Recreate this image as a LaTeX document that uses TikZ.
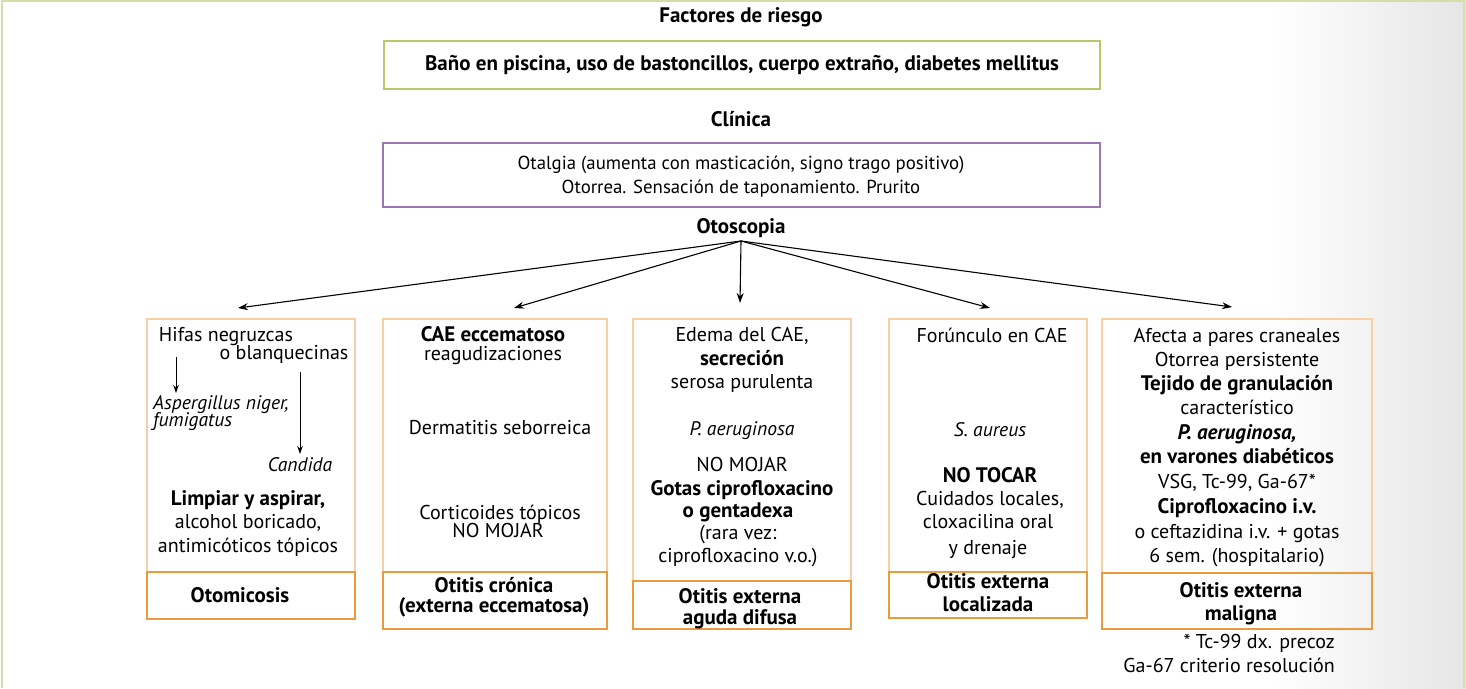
\documentclass[tikz,border=0pt]{standalone}
\usepackage{fontspec}
\setmainfont{PT Sans}
\usetikzlibrary{arrows.meta}
\definecolor{frameg}{HTML}{D3DFA6}
\definecolor{boxg}{HTML}{B6CA6C}
\definecolor{boxp}{HTML}{9A78B6}
\definecolor{olight}{HTML}{F8CFA2}
\definecolor{odark}{HTML}{EC9A3E}
\tikzset{
  txt/.style={inner sep=0pt, text height=14pt, text depth=4pt, font=\fontsize{20}{24}\selectfont},
  btxt/.style={txt, font=\fontsize{21}{24}\selectfont\bfseries},
  itxt/.style={txt, font=\fontsize{19.6}{24}\selectfont\itshape},
  bitxt/.style={txt, font=\fontsize{21}{24}\selectfont\bfseries\itshape},
  tight/.style={text height=10pt, text depth=3pt},
  topbox/.style={draw=olight, line width=1.2pt, inner sep=0pt},
  titbox/.style={draw=odark, line width=1.8pt, inner sep=0pt},
  arr/.style={line width=1.1pt, -{Stealth[length=10pt,width=7pt]}},
  sarr/.style={line width=1pt, -{Stealth[length=8pt,width=5.5pt]}},
}
\begin{document}
\begin{tikzpicture}[x=1pt,y=-1pt]
\useasboundingbox (0,0) rectangle (1466,688);
\fill[white] (0,0) rectangle (1466,688);
\shade[left color=white, right color=black!10] (1270,0) rectangle (1466,688);
\draw[frameg, line width=2pt] (2,688) -- (2,1) -- (1464,1) -- (1464,688);

% header
\node[btxt] (frtitle) at (741,18) {Factores de riesgo};
\node[draw=boxg, line width=2pt, minimum width=716pt, minimum height=48pt, inner sep=0pt] (risk) at (742,65) {};
\node[btxt] (risktxt) at (742,65) {Baño en piscina, uso de bastoncillos, cuerpo extraño, diabetes mellitus};
\node[btxt] (cltitle) at (741,121) {Clínica};
\node[draw=boxp, line width=1.6pt, minimum width=717pt, minimum height=64pt, inner sep=0pt] (clin) at (741.5,175) {};
\node[txt, font=\fontsize{18.8}{24}\selectfont] (cl1) at (741,164) {Otalgia (aumenta con masticación, signo trago positivo)};
\node[txt, font=\fontsize{18.8}{24}\selectfont] (cl2) at (741,188) {Otorrea. Sensación de taponamiento. Prurito};
\node[btxt] (oto) at (741,228) {Otoscopia};
\coordinate (o) at (741,241);

% arrow targets
\coordinate (t1) at (238,308);
\coordinate (t2) at (514,308);
\coordinate (t3) at (740,303);
\coordinate (t4) at (990,308);
\coordinate (t5) at (1232,307);
\foreach \t in {t1,t2,t3,t4,t5} \draw[arr] (o) -- (\t);

% boxes (top parts)
\node[topbox, minimum width=208pt, minimum height=253pt] (b1) at (251,445.5) {};
\node[topbox, minimum width=224pt, minimum height=253pt] (b2) at (495,445.5) {};
\node[topbox, minimum width=218pt, minimum height=262pt] (b3) at (742,450) {};
\node[topbox, minimum width=198pt, minimum height=253pt] (b4) at (988,445.5) {};
\node[topbox, minimum width=270pt, minimum height=254pt] (b5) at (1237,446) {};
% title parts
\node[titbox, minimum width=208pt, minimum height=47pt] (h1) at (251,595.5) {};
\node[titbox, minimum width=224pt, minimum height=57pt] (h2) at (495,600.5) {};
\node[titbox, minimum width=218pt, minimum height=48pt] (h3) at (742,605) {};
\node[titbox, minimum width=198pt, minimum height=46pt] (h4) at (988,595) {};
\node[titbox, minimum width=270pt, minimum height=56pt] (h5) at (1237,601) {};

% box 1
\node[txt] (a1) at (226,336) {Hifas negruzcas};
\node[txt] (a2) at (284,354) {o blanquecinas};
\node[itxt, tight, anchor=west] (a3) at (153,405.5) {Aspergillus niger,};
\node[itxt, tight, anchor=west] (a4) at (153,422.5) {fumigatus};
\node[itxt] (a5) at (300,466) {Candida};
\coordinate (s1a) at (176,357); \coordinate (s1b) at (176,393);
\coordinate (s2a) at (300,372); \coordinate (s2b) at (300,454);
\draw[sarr] (s1a) -- (s1b);
\draw[sarr] (s2a) -- (s2b);
\node[btxt] (a6) at (248,500) {Limpiar y aspirar,};
\node[txt] (a7) at (248,523) {alcohol boricado,};
\node[txt] (a8) at (248,547) {antimicóticos tópicos};
\node[btxt] (a9) at (240,597) {Otomicosis};

% box 2
\node[btxt] (c1) at (493,336) {CAE eccematoso};
\node[txt] (c2) at (493,355) {reagudizaciones};
\node[txt] (c3) at (500,429) {Dermatitis seborreica};
\node[txt] (c4) at (500,514) {Corticoides tópicos};
\node[txt] (c5) at (498,532) {NO MOJAR};
\node[btxt] (c6) at (494,587) {Otitis crónica};
\node[btxt] (c7) at (494,607) {(externa eccematosa)};

% box 3
\node[txt] (d1) at (742,336) {Edema del CAE,};
\node[btxt] (d2) at (742,360) {secreción};
\node[txt] (d3) at (742,383) {serosa purulenta};
\node[itxt] (d4) at (742,430) {P. aeruginosa};
\node[txt] (d5) at (742,466) {NO MOJAR};
\node[btxt] (d6) at (742,490) {Gotas ciprofloxacino};
\node[btxt] (d7) at (738,512) {o gentadexa};
\node[txt] (d8) at (738,534) {(rara vez:};
\node[txt] (d9) at (738,557) {ciprofloxacino v.o.)};
\node[btxt] (d10) at (740,598) {Otitis externa};
\node[btxt] (d11) at (740,619) {aguda difusa};

% box 4
\node[txt] (e1) at (992,337) {Forúnculo en CAE};
\node[itxt] (e2) at (990,431) {S. aureus};
\node[btxt] (e3) at (990,477) {NO TOCAR};
\node[txt] (e4) at (990,500) {Cuidados locales,};
\node[txt] (e5) at (988,523) {cloxacilina oral};
\node[txt] (e6) at (988,549) {y drenaje};
\node[btxt] (e7) at (988,583) {Otitis externa};
\node[btxt] (e8) at (988,606) {localizada};

% box 5
\node[txt] (f1) at (1237,337) {Afecta a pares craneales};
\node[txt] (f2) at (1237,361) {Otorrea persistente};
\node[btxt] (f3) at (1237,385) {Tejido de granulación};
\node[txt] (f4) at (1237,409) {característico};
\node[bitxt] (f5) at (1237,434) {P. aeruginosa,};
\node[btxt] (f6) at (1237,458) {en varones diabéticos};
\node[txt] (f7) at (1237,483) {VSG, Tc-99, Ga-67*};
\node[btxt] (f8) at (1237,508) {Ciprofloxacino i.v.};
\node[txt] (f9) at (1237,533) {o ceftazidina i.v. + gotas};
\node[txt] (f10) at (1237,557) {6 sem. (hospitalario)};
\node[btxt] (f11) at (1241,592) {Otitis externa};
\node[btxt] (f12) at (1241,615) {maligna};
\node[txt, anchor=east] (n1) at (1335,643) {* Tc-99 dx. precoz};
\node[txt, anchor=east] (n2) at (1335,667) {Ga-67 criterio resolución};
\end{tikzpicture}
\end{document}
